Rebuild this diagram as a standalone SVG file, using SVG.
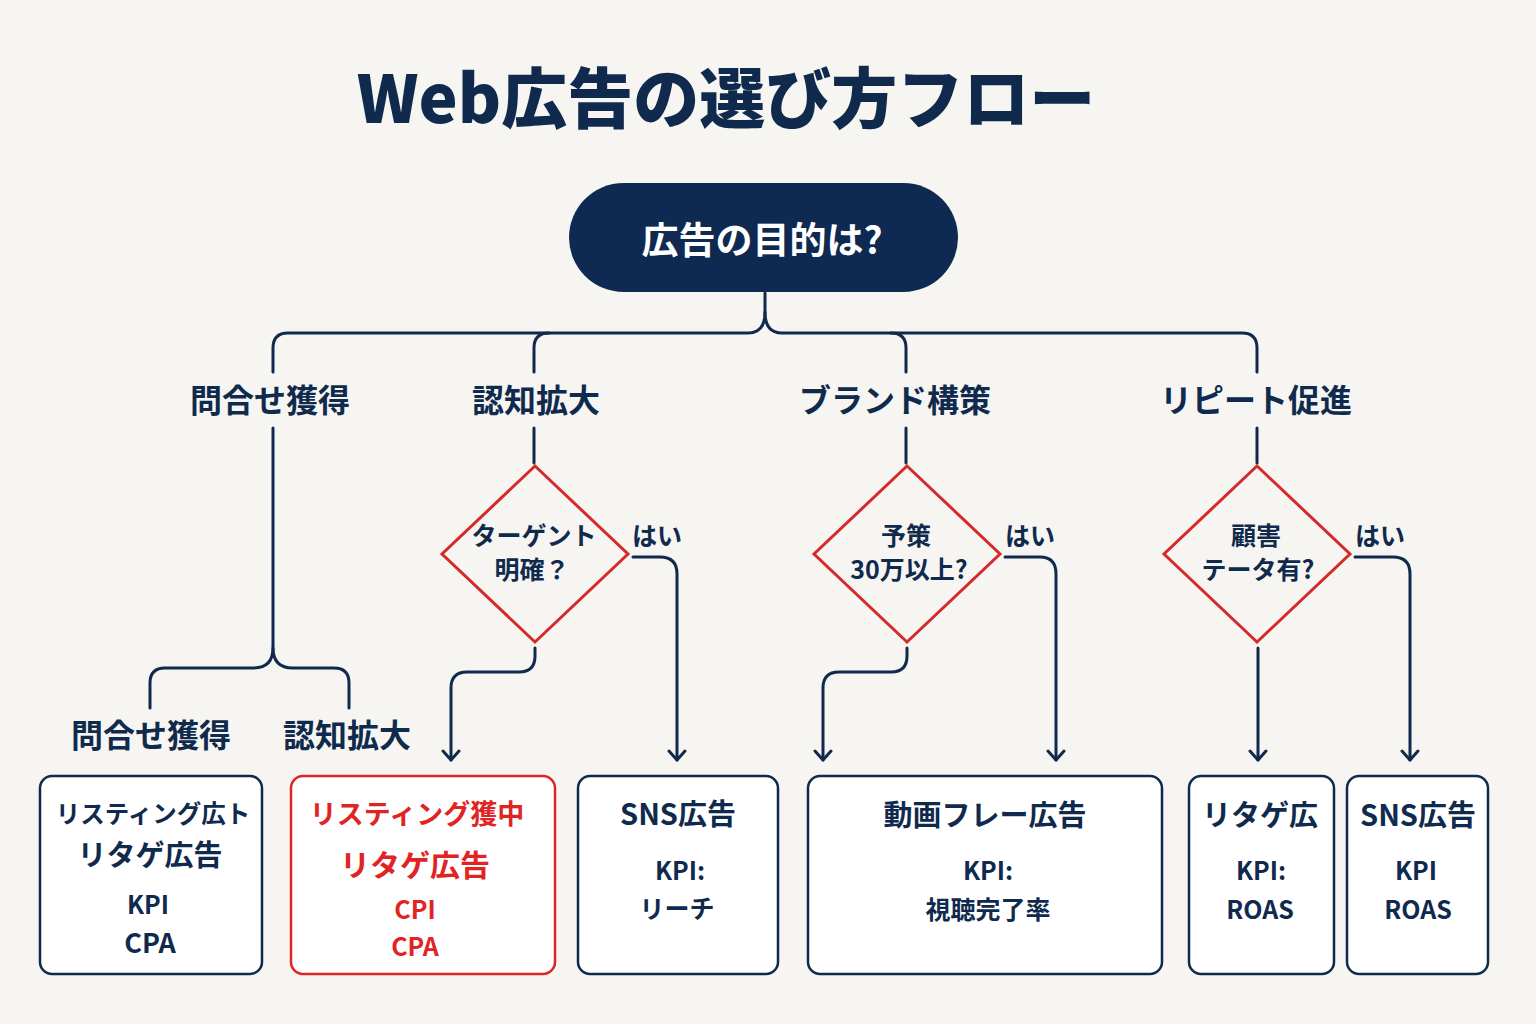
<svg xmlns="http://www.w3.org/2000/svg" width="1536" height="1024" viewBox="0 0 1536 1024">
<defs>
<style>
text{font-family:"Noto Sans CJK JP","Noto Sans",sans-serif;font-weight:700;text-anchor:middle;dominant-baseline:central;fill:#102a4e}
.title{font-size:66px;font-weight:900}
.lbl{font-size:32px}
.dq{font-size:25px}
.bt{font-size:29px}
.kp{font-size:25px}
.red{fill:#e02424}
.box{fill:#ffffff;stroke:#102a4e;stroke-width:2.5}
.boxr{fill:#ffffff;stroke:#e02424;stroke-width:2.5}
.dia{fill:none;stroke:#d42a2a;stroke-width:3}
.ln{fill:none;stroke:#102a4e;stroke-width:3;stroke-linecap:round;stroke-linejoin:round}
</style>
<marker id="arr" viewBox="0 0 20 20" refX="18" refY="10" markerWidth="20" markerHeight="20" markerUnits="userSpaceOnUse" orient="auto">
<path d="M9 2 L18 10 L9 18" fill="none" stroke="#102a4e" stroke-width="3" stroke-linecap="round" stroke-linejoin="round"/>
</marker>
</defs>
<rect width="1536" height="1024" fill="#f6f5f1"/>
<text class="title" x="726" y="94">Web広告の選び方フロー</text>

<g id="connectors">
<path class="ln" d="M765 293 V312 Q765 333 748 333 H288 Q273 333 273 348 V372"/>
<path class="ln" d="M765 312 Q765 333 782 333 H1242 Q1257 333 1257 348 V372"/>
<path class="ln" d="M549 333 Q534 333 534 348 V372"/>
<path class="ln" d="M891 333 Q906 333 906 348 V372"/>
<path class="ln" d="M273 428 V648 Q273 668 253 668 H165 Q150 668 150 683 V708"/>
<path class="ln" d="M273 648 Q273 668 293 668 H334 Q349 668 349 683 V708"/>
<path class="ln" d="M534 428 V463"/>
<path class="ln" d="M906 428 V463"/>
<path class="ln" d="M1257 428 V463"/>
<path class="ln" d="M633 557 H660 Q677 557 677 574 V760" marker-end="url(#arr)"/>
<path class="ln" d="M535 648 V656 Q535 672 519 672 H467 Q451 672 451 688 V760" marker-end="url(#arr)"/>
<path class="ln" d="M1005 557 H1040 Q1056 557 1056 574 V760" marker-end="url(#arr)"/>
<path class="ln" d="M907 648 V656 Q907 672 891 672 H839 Q823 672 823 688 V760" marker-end="url(#arr)"/>
<path class="ln" d="M1355 557 H1393 Q1410 557 1410 574 V760" marker-end="url(#arr)"/>
<path class="ln" d="M1258 648 V760" marker-end="url(#arr)"/>
</g>

<g id="start">
<rect x="569" y="183" width="389" height="109" rx="54.5" fill="#0f2a52"/>
<text x="762" y="238" style="font-size:37px;fill:#ffffff">広告の目的は?</text>
</g>

<g id="lbl-inquiry"><text class="lbl" x="270" y="398">問合せ獲得</text></g>
<g id="lbl-awareness"><text class="lbl" x="536" y="398">認知拡大</text></g>
<g id="lbl-brand"><text class="lbl" x="895" y="398">ブランド構策</text></g>
<g id="lbl-repeat"><text class="lbl" x="1256" y="398">リピート促進</text></g>

<g id="lbl-inquiry2"><text class="lbl" x="151" y="733">問合せ獲得</text></g>
<g id="lbl-awareness2"><text class="lbl" x="347" y="733">認知拡大</text></g>

<g id="d1">
<polygon class="dia" points="535,466 628,554 535,642 442,554"/>
<text class="dq" x="534" y="534">ターゲント</text>
<text class="dq" x="532" y="568">明確？</text>
<text class="dq" x="657" y="534">はい</text>
</g>
<g id="d2">
<polygon class="dia" points="907,466 1000,554 907,642 814,554"/>
<text class="dq" x="906" y="534">予策</text>
<text class="dq" x="909" y="568">30万以上?</text>
<text class="dq" x="1030" y="534">はい</text>
</g>
<g id="d3">
<polygon class="dia" points="1257,466 1350,554 1257,642 1164,554"/>
<text class="dq" x="1256" y="534">顧害</text>
<text class="dq" x="1258" y="568">テータ有?</text>
<text class="dq" x="1380" y="534">はい</text>
</g>

<g id="b1">
<rect class="box" x="40" y="776" width="222" height="198" rx="12"/>
<text x="153" y="812" style="font-size:24.5px">リスティング広ト</text>
<text x="150" y="853" style="font-size:29px">リタゲ広告</text>
<text class="kp" x="148" y="903">KPI</text>
<text class="kp" x="150" y="941" style="font-size:27px">CPA</text>
</g>
<g id="b2">
<rect class="boxr" x="291" y="776" width="264" height="198" rx="12"/>
<text class="red" x="417" y="812" style="font-size:27px">リスティング獲中</text>
<text class="red" x="415" y="863" style="font-size:30px">リタゲ広告</text>
<text class="red kp" x="415" y="908">CPI</text>
<text class="red kp" x="415" y="945">CPA</text>
</g>
<g id="b3">
<rect class="box" x="578" y="776" width="200" height="198" rx="12"/>
<text class="bt" x="678" y="812">SNS広告</text>
<text class="kp" x="680" y="869">KPI:</text>
<text class="kp" x="677" y="907">リーチ</text>
</g>
<g id="b4">
<rect class="box" x="808" y="776" width="354" height="198" rx="12"/>
<text class="bt" x="985" y="813">動画フレー広告</text>
<text class="kp" x="988" y="869">KPI:</text>
<text class="kp" x="988" y="908">視聴完了率</text>
</g>
<g id="b5">
<rect class="box" x="1189" y="776" width="145" height="198" rx="12"/>
<text class="bt" x="1260" y="813">リタゲ広</text>
<text class="kp" x="1261" y="869">KPI:</text>
<text class="kp" x="1260" y="908">ROAS</text>
</g>
<g id="b6">
<rect class="box" x="1347" y="776" width="141" height="198" rx="12"/>
<text class="bt" x="1418" y="813">SNS広告</text>
<text class="kp" x="1416" y="869">KPI</text>
<text class="kp" x="1418" y="908">ROAS</text>
</g>
</svg>
